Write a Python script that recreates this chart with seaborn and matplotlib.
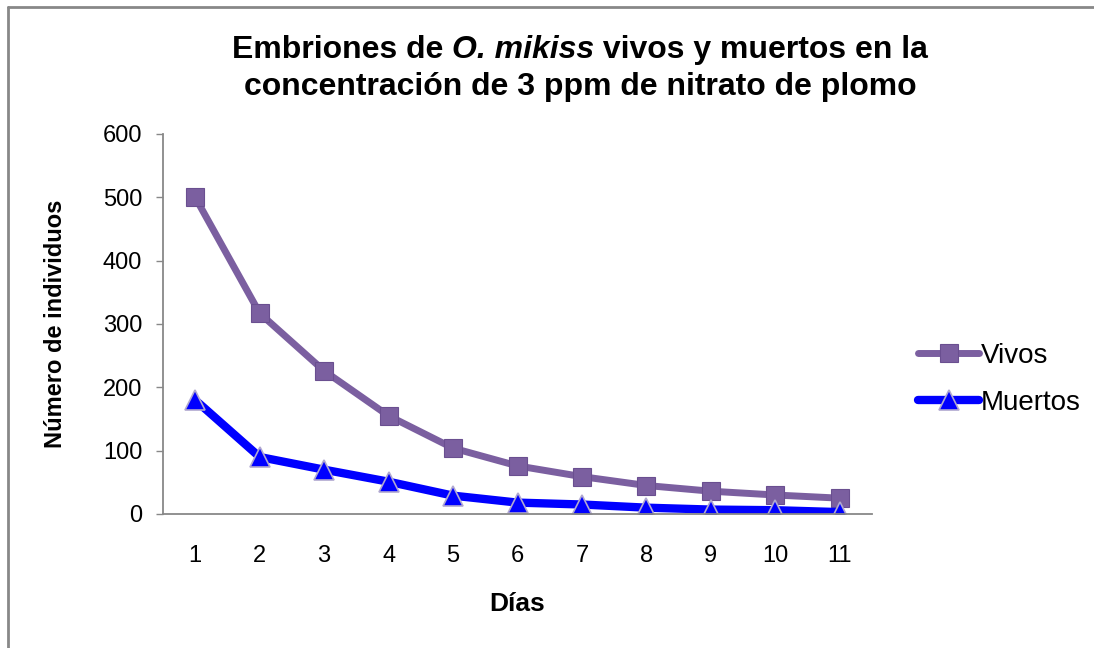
import matplotlib
matplotlib.use("Agg")
import matplotlib.pyplot as plt
from matplotlib.lines import Line2D
import pandas as pd
import seaborn as sns

# datos
dias = [1, 2, 3, 4, 5, 6, 7, 8, 9, 10, 11]
vivos = [500, 317, 226, 155, 104, 76, 59, 45, 36, 30, 25]
muertos = [180, 90, 70, 51, 29, 18, 15, 10, 7, 6, 3]

sns.set_theme(style="white")
plt.rcParams["font.family"] = ["Liberation Sans", "DejaVu Sans"]
plt.rcParams["text.color"] = "black"

df = pd.DataFrame({"Días": dias, "Vivos": vivos, "Muertos": muertos})

fig = plt.figure(figsize=(10.94, 6.48), dpi=100)
ax = fig.add_axes([163 / 1094, 1 - 514 / 648, 709 / 1094, 380 / 648])

sns.lineplot(data=df, x="Días", y="Vivos", ax=ax, color="#7B5FA0", linewidth=5,
             marker="s", markersize=13, markeredgecolor="#6A4F90", markeredgewidth=0.8,
             label="Vivos")
sns.lineplot(data=df, x="Días", y="Muertos", ax=ax, color="#0000FF", linewidth=6,
             marker="^", markersize=15, markeredgecolor="#B0A8D0", markeredgewidth=1.2,
             label="Muertos")

ax.set_xlim(0.5, 11.5)
ax.set_ylim(0, 600)
ax.set_xticks(dias)
ax.set_yticks(range(0, 601, 100))
ax.tick_params(axis="both", labelsize=17, labelcolor="black")
ax.tick_params(axis="y", length=5, width=1, color="#888888", direction="out", left=True, pad=10)
ax.tick_params(axis="x", length=0, pad=22)
for s in ["top", "right"]:
    ax.spines[s].set_visible(False)
for s in ["left", "bottom"]:
    ax.spines[s].set_color("#888888")
    ax.spines[s].set_linewidth(1.3)

ax.set_xlabel("Días", fontsize=19, fontweight="bold", labelpad=18, color="black")
ax.set_ylabel("Número de individuos", fontsize=17, fontweight="bold", labelpad=26, color="black")

leg = ax.legend(loc="center left", bbox_to_anchor=(1.03, 0.355), frameon=False,
                fontsize=20, handlelength=2.2, handletextpad=0.05, labelspacing=0.75)

# titulo con parte en cursiva
fig.canvas.draw()
renderer = fig.canvas.get_renderer()
parts = [("Embriones de ", "normal"), ("O. mikiss", "italic"), (" vivos y muertos en la", "normal")]
texts = []
for txt, st in parts:
    t = fig.text(0, 1 - 50 / 648, txt, fontsize=23, fontweight="bold", style=st,
                 ha="left", va="center", color="black")
    texts.append(t)
widths = [t.get_window_extent(renderer).width for t in texts]
x = 580 - sum(widths) / 2
for t, w in zip(texts, widths):
    t.set_x(x / 1094)
    x += w
fig.text(580 / 1094, 1 - 87 / 648, "concentración de 3 ppm de nitrato de plomo",
         fontsize=23, fontweight="bold", ha="center", va="center", color="black")

# marco del grafico
fig.add_artist(Line2D([8 / 1094, 8 / 1094], [0, 1 - 7 / 648], color="#888888", lw=2))
fig.add_artist(Line2D([8 / 1094, 1], [1 - 7 / 648, 1 - 7 / 648], color="#888888", lw=2))

fig.savefig("out.png", dpi=100)
